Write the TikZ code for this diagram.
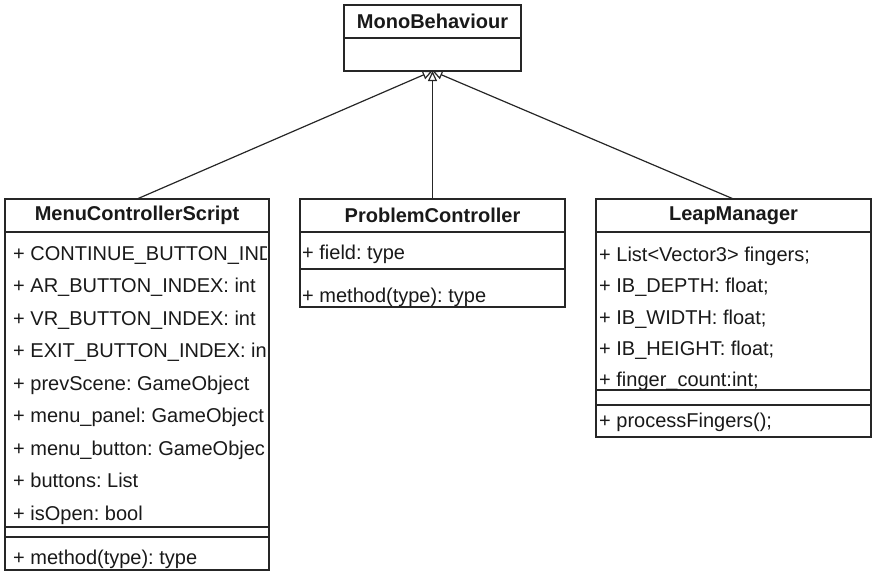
\documentclass[tikz,border=0pt]{standalone}
\usepackage{fontspec}
\setmainfont{Liberation Sans}
\usetikzlibrary{arrows.meta}
\frenchspacing
\begin{document}
\begin{tikzpicture}[x=1pt,y=-1pt,
  classbox/.style={draw=black!85, line width=1.2pt, inner sep=0pt, outer sep=0pt},
  sepline/.style={draw=black!85, line width=1.2pt},
  hdr/.style={font=\fontsize{20}{24}\selectfont\bfseries, inner sep=0pt, text=black!90},
  attr/.style={font=\fontsize{20}{24}\selectfont, anchor=base west, inner sep=0pt, text=black!90},
  inherit/.style={draw=black!85, line width=1.2pt, -{Triangle[open, length=10pt, width=9pt]}}]
\useasboundingbox (0,0) rectangle (872,571);

% MonoBehaviour
\node[classbox, minimum width=177pt, minimum height=66pt] (mono) at (432.5,38) {};
\draw[sepline] (mono.west |- 0,38) -- (mono.east |- 0,38);
\node[hdr] (monoT) at (432.5,21.5) {MonoBehaviour};

% MenuControllerScript
\node[classbox, minimum width=264pt, minimum height=371pt] (menu) at (137,384.5) {};
\draw[sepline] (menu.west |- 0,232) -- (menu.east |- 0,232);
\draw[sepline] (menu.west |- 0,527) -- (menu.east |- 0,527);
\draw[sepline] (menu.west |- 0,537) -- (menu.east |- 0,537);
\node[hdr] (menuT) at (137,215.5) {MenuControllerScript};
\begin{scope}
\clip (5,232) rectangle (266,527);
\node[attr] (m1) at (13,260) {+ CONTINUE\_BUTTON\_IND};
\node[attr] (m2) at (13,292.5) {+ AR\_BUTTON\_INDEX: int};
\node[attr] (m3) at (13,325) {+ VR\_BUTTON\_INDEX: int};
\node[attr] (m4) at (13,357.5) {+ EXIT\_BUTTON\_INDEX: in};
\node[attr] (m5) at (13,390) {+ prevScene: GameObject};
\node[attr] (m6) at (13,422.5) {+ menu\_panel: GameObject};
\node[attr] (m7) at (13,455) {+ menu\_button: GameObjec};
\node[attr] (m8) at (13,487.5) {+ buttons: List};
\node[attr] (m9) at (13,520) {+ isOpen: bool};
\end{scope}
\node[attr] (m10) at (13,564) {+ method(type): type};

% ProblemController
\node[classbox, minimum width=265pt, minimum height=108pt] (prob) at (432.5,253) {};
\draw[sepline] (prob.west |- 0,232) -- (prob.east |- 0,232);
\draw[sepline] (prob.west |- 0,269) -- (prob.east |- 0,269);
\node[hdr] (probT) at (432.5,215.5) {ProblemController};
\node[attr] (p1) at (302,259) {+ field: type};
\node[attr] (p2) at (302,302) {+ method(type): type};

% LeapManager
\node[classbox, minimum width=275pt, minimum height=238pt] (leap) at (733.5,318) {};
\draw[sepline] (leap.west |- 0,232) -- (leap.east |- 0,232);
\draw[sepline] (leap.west |- 0,390) -- (leap.east |- 0,390);
\draw[sepline] (leap.west |- 0,405) -- (leap.east |- 0,405);
\node[hdr] (leapT) at (733.5,215.5) {LeapManager};
\node[attr] (l1) at (599,261) {+ List<Vector3> fingers;};
\node[attr] (l2) at (599,292.5) {+ IB\_DEPTH: float;};
\node[attr] (l3) at (599,324) {+ IB\_WIDTH: float;};
\node[attr] (l4) at (599,355.5) {+ IB\_HEIGHT: float;};
\node[attr] (l5) at (599,386) {+ finger\_count:int;};
\node[attr] (l6) at (599,427) {+ processFingers();};

% Generalisations
\draw[inherit] (menu.north) -- (mono.south);
\draw[inherit] (prob.north) -- (mono.south);
\draw[inherit] (leap.north) -- (mono.south);
\end{tikzpicture}
\end{document}
